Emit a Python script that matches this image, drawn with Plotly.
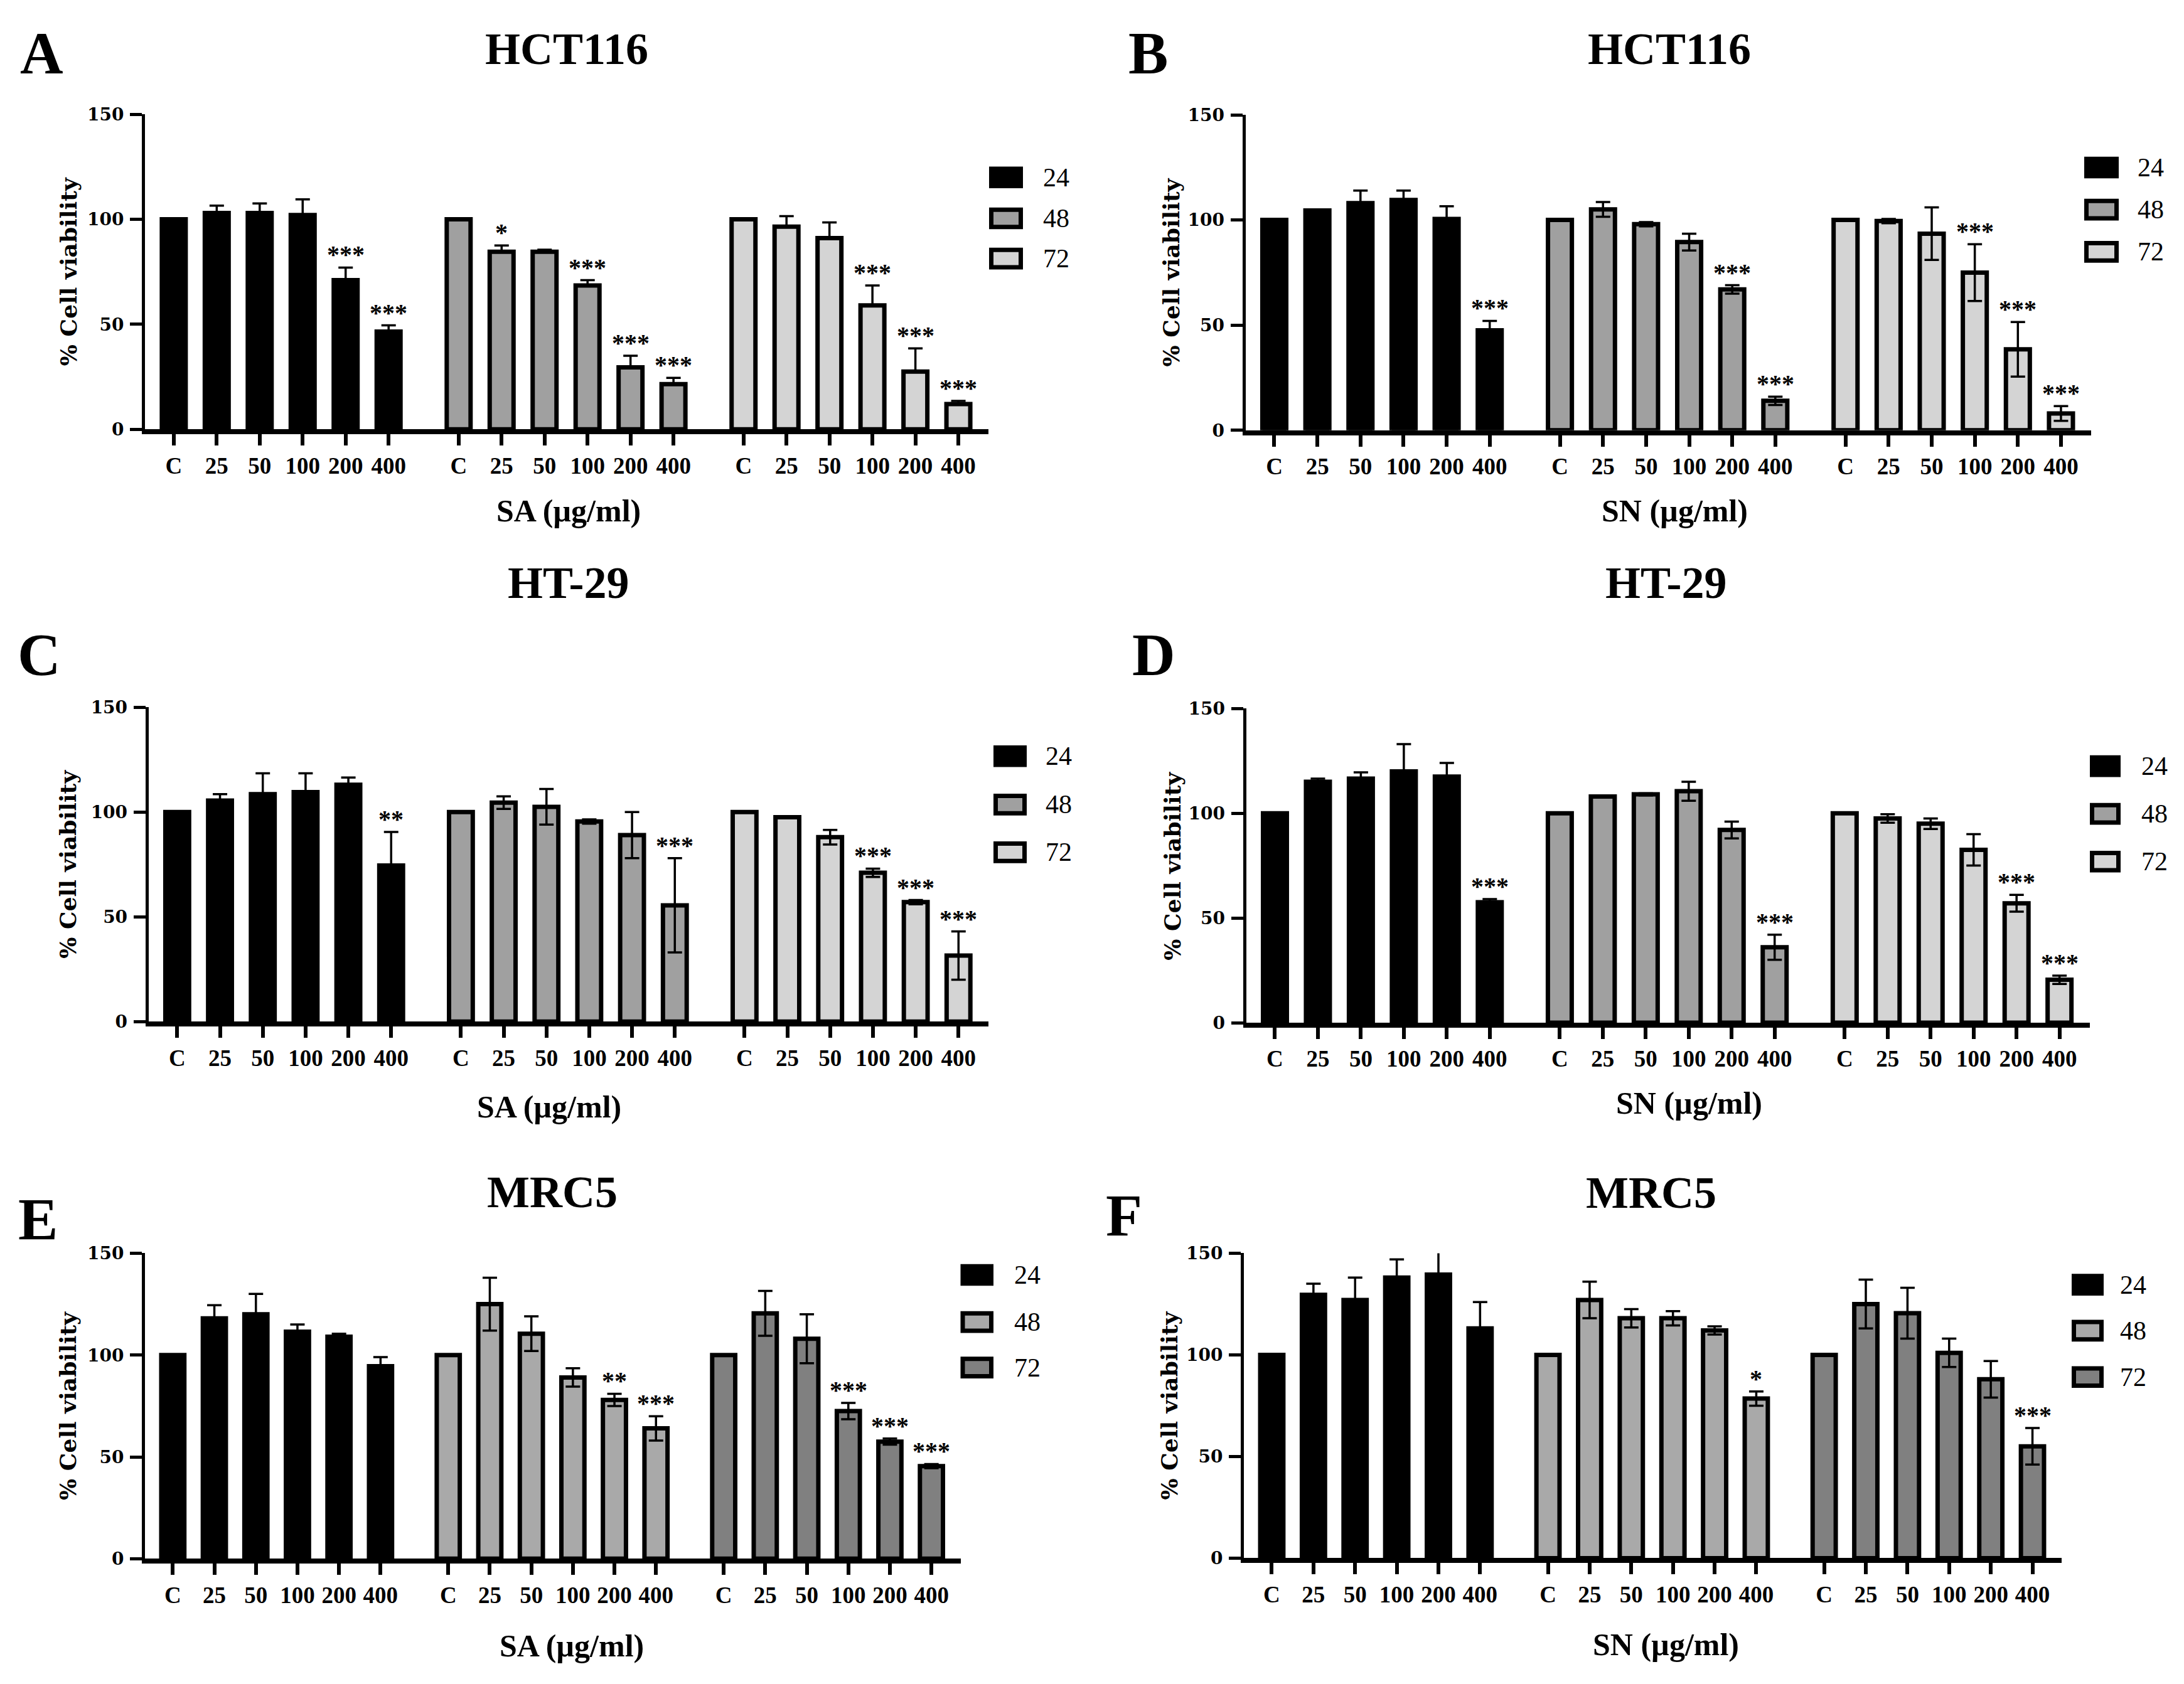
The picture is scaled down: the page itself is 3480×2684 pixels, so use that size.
import plotly.graph_objects as go

W, H = 3480, 2684

doses = ["C", "25", "50", "100", "200", "400"]
times = ["24", "48", "72"]

# rows = 24 h, 48 h, 72 h ; columns = C, 25, 50, 100, 200, 400 ug/ml
a_val = [[100, 103, 103, 102, 71, 46.5],
         [100, 84.5, 84.5, 68.5, 29.5, 21.5],
         [100, 96.5, 91, 59, 27.5, 12]]
a_err = [[0, 3.5, 4.5, 7.5, 6, 3],
         [0, 3, 1, 2.5, 5.5, 3],
         [0, 5, 7.5, 9.5, 11, 1.5]]
a_sig = [["", "", "", "", "***", "***"],
         ["", "*", "", "***", "***", "***"],
         ["", "", "", "***", "***", "***"]]

b_val = [[100, 104.5, 108, 109.5, 100.5, 47.5],
         [100, 105, 98, 89.5, 67, 14],
         [100, 99.5, 93.5, 75, 38.5, 8]]
b_err = [[0, 0, 6, 4.5, 6, 4.5],
         [0, 3.5, 1, 4, 2, 2],
         [0, 1, 12.5, 13.5, 13, 3.5]]
b_sig = [["", "", "", "", "", "***"],
         ["", "", "", "", "***", "***"],
         ["", "", "", "***", "***", "***"]]

c_val = [[100, 105.5, 108.5, 109.5, 113, 74.5],
         [100, 104.5, 102.5, 95.5, 89, 55.5],
         [100, 97.5, 88, 71, 57, 31.5]]
c_err = [[0, 3, 10, 9, 3.5, 16],
         [0, 3, 8.5, 1, 11, 22.5],
         [0, 0, 3.5, 2, 1, 11.5]]
c_sig = [["", "", "", "", "", "**"],
         ["", "", "", "", "", "***"],
         ["", "", "", "***", "***", "***"]]

d_val = [[100, 115, 116.5, 120, 117.5, 57.5],
         [100, 108, 109, 110.5, 92, 36],
         [100, 97.5, 95, 82.5, 57, 20.5]]
d_err = [[0, 1.5, 3, 13, 6.5, 1.5],
         [0, 0.5, 0.5, 4.5, 4, 6],
         [0, 2, 2.5, 7.5, 4, 2]]
d_sig = [["", "", "", "", "", "***"],
         ["", "", "", "", "", "***"],
         ["", "", "", "", "***", "***"]]

e_val = [[100, 118, 120, 111.5, 109, 94.5],
         [100, 125, 110.5, 89, 78, 64],
         [100, 120.5, 108, 72.5, 57.5, 45.5]]
e_err = [[0, 6.5, 10, 3.5, 1.5, 4.5],
         [0, 13, 8.5, 4.5, 3, 6],
         [0, 11, 12, 4, 1.5, 1]]
e_sig = [["", "", "", "", "", ""],
         ["", "", "", "", "**", "***"],
         ["", "", "", "***", "***", "***"]]

f_val = [[100, 129.5, 127, 138, 139.5, 113],
         [100, 127, 118, 118, 112, 78.5],
         [100, 125, 120.5, 101, 88, 55]]
f_err = [[0, 5.5, 11, 9, 12, 13],
         [0, 9, 4.5, 3.5, 2, 3.5],
         [0, 12, 12.5, 7, 9, 9]]
f_sig = [["", "", "", "", "", ""],
         ["", "", "", "", "", "*"],
         ["", "", "", "", "", "***"]]

cancer_colors = ["#000000", "#a0a0a0", "#d4d4d4"]
mrc5_colors = ["#000000", "#a9a9a9", "#808080"]

panels = [
    dict(letter="A", cell="HCT116", drug="SA", val=a_val, err=a_err, sig=a_sig,
         colors=cancer_colors, two_sided=False,
         box=(223, 1567, 160, 668.5), title=(895, 55), lett=(58, 62),
         xlab=(898, 800), ytit=101, leg=(1568, 1622, [262, 328, 393], 1652)),
    dict(letter="B", cell="HCT116", drug="SN", val=b_val, err=b_err, sig=b_sig,
         colors=cancer_colors, two_sided=True,
         box=(1976.5, 3324, 161, 670), title=(2652, 55), lett=(1822, 62),
         xlab=(2660, 800), ytit=1858, leg=(3313, 3368, [246, 314, 382], 3396)),
    dict(letter="C", cell="HT-29", drug="SA", val=c_val, err=c_err, sig=c_sig,
         colors=cancer_colors, two_sided=True,
         box=(228.7, 1567, 1117, 1624.2), title=(897, 916), lett=(54, 1033),
         xlab=(867, 1762), ytit=100, leg=(1575, 1628, [1196, 1274, 1351], 1656)),
    dict(letter="D", cell="HT-29", drug="SN", val=d_val, err=d_err, sig=d_sig,
         colors=cancer_colors, two_sided=True,
         box=(1977.6, 3321.6, 1119, 1626), title=(2646, 916), lett=(1830, 1033),
         xlab=(2683, 1756), ytit=1860, leg=(3322, 3371, [1212, 1289, 1366], 3402)),
    dict(letter="E", cell="MRC5", drug="SA", val=e_val, err=e_err, sig=e_sig,
         colors=mrc5_colors, two_sided=True,
         box=(223, 1522.5, 1998, 2491), title=(872, 1899), lett=(52, 1944),
         xlab=(903, 2631), ytit=100, leg=(1522.5, 1575, [2033, 2109, 2182.5], 1606)),
    dict(letter="F", cell="MRC5", drug="SN", val=f_val, err=f_err, sig=f_sig,
         colors=mrc5_colors, two_sided=True,
         box=(1974, 3277, 1998, 2490), title=(2623, 1900), lett=(1783, 1938),
         xlab=(2646, 2629), ytit=1855, leg=(3293, 3344, [2048.8, 2123, 2197.8], 3368)),
]

GROUP_STEP = 6.63
BAR_W = 0.555
SERIF = "Liberation Serif"
WIDE = "DejaVu Serif"


def px(x):
    return x / W


def py(y):
    return 1 - y / H


fig = go.Figure()
annotations = []
shapes = []
layout = {}

for k, p in enumerate(panels):
    n = "" if k == 0 else str(k + 1)
    xref, yref = "x" + n, "y" + n
    x0, x1, ytop, y0 = p["box"]
    tickpos = []
    for g in range(3):
        xs = [g * GROUP_STEP + i for i in range(len(doses))]
        tickpos += xs
        err = dict(type="data", array=p["err"][g], color="black",
                   thickness=3.5, width=11.5, visible=True)
        if not p["two_sided"]:
            err["symmetric"] = False
            err["arrayminus"] = [0] * len(doses)
        fig.add_trace(go.Bar(
            x=xs, y=p["val"][g], width=BAR_W, xaxis=xref, yaxis=yref,
            marker=dict(color=p["colors"][g], line=dict(color="black", width=7)),
            error_y=err, showlegend=False, name=times[g]))
        for xi, v, e, s in zip(xs, p["val"][g], p["err"][g], p["sig"][g]):
            if s:
                annotations.append(dict(
                    x=xi, y=v + e, xref=xref, yref=yref, text=s, showarrow=False,
                    yanchor="bottom", yshift=-4,
                    font=dict(family=SERIF, size=40, color="black", weight="bold")))

    layout["xaxis" + n] = dict(
        domain=[px(x0), px(x1)], anchor=yref,
        range=[-0.67, 2 * GROUP_STEP + 5 + 0.7],
        tickmode="array", tickvals=tickpos, ticktext=doses * 3,
        showline=True, linewidth=8, linecolor="black",
        ticks="outside", ticklen=18, tickwidth=6, tickcolor="black",
        tickfont=dict(family=SERIF, size=37, color="black", weight="bold"),
        showgrid=False, zeroline=False, fixedrange=True)
    layout["yaxis" + n] = dict(
        domain=[py(y0), py(ytop)], anchor=xref, range=[0, 150],
        tickmode="array", tickvals=[0, 50, 100, 150],
        showline=True, linewidth=5, linecolor="black",
        ticks="outside", ticklen=19, tickwidth=5, tickcolor="black",
        tickfont=dict(family=WIDE, size=28, color="black", weight="bold"),
        ticklabelstandoff=4,
        showgrid=False, zeroline=False, fixedrange=True)

    # panel letter, title, axis titles
    annotations.append(dict(x=px(p["lett"][0]), y=py(p["lett"][1]), xref="paper", yref="paper",
                            text=p["letter"], showarrow=False, xanchor="center", yanchor="middle",
                            font=dict(family=SERIF, size=95, color="black", weight="bold")))
    annotations.append(dict(x=px(p["title"][0]), y=py(p["title"][1]), xref="paper", yref="paper",
                            text=p["cell"], showarrow=False, xanchor="center", yanchor="middle",
                            font=dict(family=SERIF, size=72, color="black", weight="bold")))
    annotations.append(dict(x=px(p["xlab"][0]), y=py(p["xlab"][1]), xref="paper", yref="paper",
                            text=p["drug"] + " (µg/ml)", showarrow=False,
                            xanchor="center", yanchor="middle",
                            font=dict(family=SERIF, size=50, color="black", weight="bold")))
    annotations.append(dict(x=px(p["ytit"]), y=py((ytop + y0) / 2), xref="paper", yref="paper",
                            text="% Cell viability", showarrow=False, textangle=-90,
                            xanchor="center", yanchor="middle",
                            font=dict(family=WIDE, size=36, color="black", weight="bold")))

    # legend boxes
    lx0, lx1, lys, tx = p["leg"]
    for g, ly in enumerate(lys):
        shapes.append(dict(type="rect", xref="paper", yref="paper",
                           x0=px(lx0 + 3.5), x1=px(lx1 - 3.5),
                           y0=py(ly + 14), y1=py(ly - 14),
                           fillcolor=p["colors"][g], line=dict(color="black", width=7)))
        annotations.append(dict(x=px(tx), y=py(ly), xref="paper", yref="paper",
                                text=times[g], showarrow=False, xanchor="left", yanchor="middle",
                                font=dict(family=SERIF, size=42, color="black")))

fig.update_layout(
    width=W, height=H, autosize=False,
    margin=dict(l=0, r=0, t=0, b=0),
    paper_bgcolor="white", plot_bgcolor="white",
    barmode="overlay", showlegend=False,
    annotations=annotations, shapes=shapes,
    **layout)

fig.write_html("out.html")
